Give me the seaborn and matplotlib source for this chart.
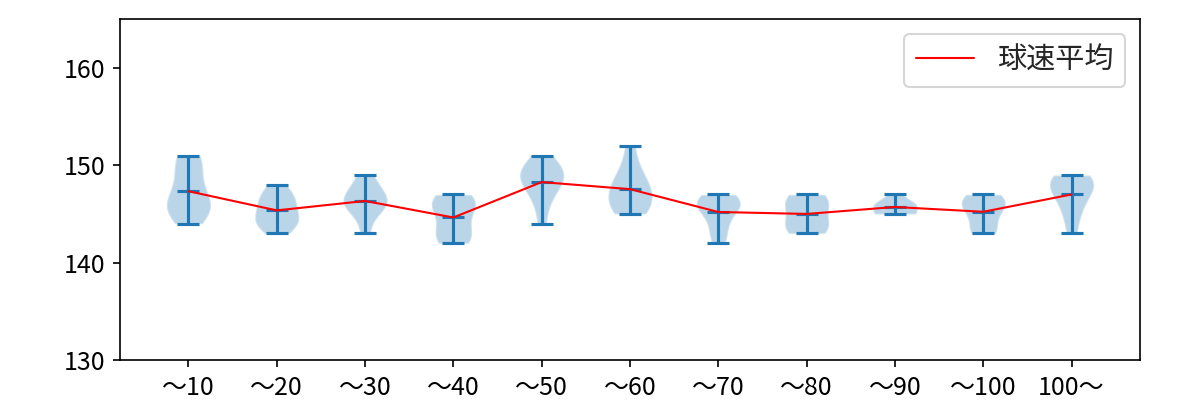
import numpy as np
import pandas as pd
import matplotlib
matplotlib.use("Agg")
import matplotlib.pyplot as plt
import seaborn as sns

categories = ["〜10", "〜20", "〜30", "〜40", "〜50", "〜60", "〜70", "〜80", "〜90", "〜100", "100〜"]

speeds_10 = [144, 145, 145, 146, 146, 146, 147, 148, 149, 150, 151, 151]
speeds_20 = [143, 144, 144, 144, 145, 145, 146, 146, 147, 147, 148]
speeds_30 = [143, 145, 146, 146, 146, 147, 147, 148, 149]
speeds_40 = [142, 142, 143, 143, 144, 145, 146, 146, 146, 147, 147]
speeds_50 = [144, 146, 147, 148, 148, 149, 149, 149, 150, 150, 151]
speeds_60 = [145, 145, 146, 146, 147, 147, 148, 148, 149, 150, 152]
speeds_70 = [142, 143, 144, 145, 146, 146, 146, 146, 147, 147]
speeds_80 = [143, 143, 144, 144, 145, 146, 146, 147, 147]
speeds_90 = [145, 145, 145, 146, 146, 146, 147]
speeds_100 = [143, 143, 144, 145, 146, 146, 146, 147, 147]
speeds_100p = [143, 145, 146, 147, 148, 148, 148, 149, 149]

groups = [speeds_10, speeds_20, speeds_30, speeds_40, speeds_50, speeds_60,
          speeds_70, speeds_80, speeds_90, speeds_100, speeds_100p]

legend_label = "球速平均"
y_ticks = [130, 140, 150, 160]

sns.set_style("ticks")
plt.rcParams['font.family'] = ['Noto Sans CJK JP', 'DejaVu Sans']

fig, ax = plt.subplots(figsize=(8, 8 / 3), dpi=150)
fig.subplots_adjust(left=0.1, right=0.95, bottom=0.1, top=0.952)

positions = np.arange(1, len(groups) + 1)
ax.violinplot(groups, positions=positions, showmeans=True, showextrema=True)

means = pd.DataFrame({"x": positions, "mean": [np.mean(g) for g in groups]})
sns.lineplot(data=means, x="x", y="mean", color="red", linewidth=1,
             label=legend_label, ax=ax, sort=False)

ax.set_xticks(positions)
ax.set_xticklabels(categories, fontsize=12)
ax.set_yticks(y_ticks)
ax.tick_params(axis='both', labelsize=12, length=3.5, width=0.8, colors="black")
ax.set_ylim(130, 165)
ax.set_xlabel("")
ax.set_ylabel("")
for s in ax.spines.values():
    s.set_visible(True)
    s.set_color("black")
    s.set_linewidth(0.8)
ax.legend(loc="upper right", fontsize=14)

fig.savefig("out.png", dpi=150)
